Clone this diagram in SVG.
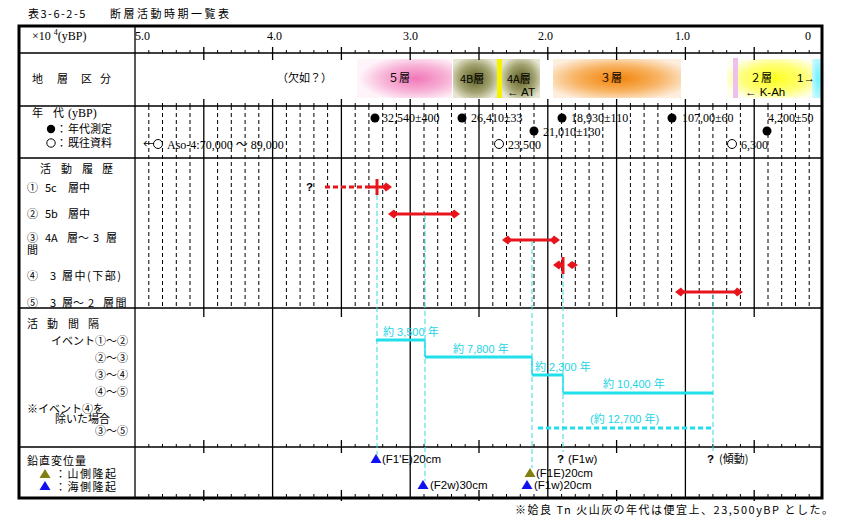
<svg xmlns="http://www.w3.org/2000/svg" width="842" height="523" viewBox="0 0 842 523">
<defs>
<style>
.jp{font-family:"Noto Sans CJK JP","Noto Sans CJK SC",sans-serif;font-size:11px;fill:#000}
.sr{font-family:"Liberation Serif","Noto Sans CJK JP",serif;font-size:12px;fill:#000}
.ss{font-family:"Liberation Sans","Noto Sans CJK JP",sans-serif;font-size:11.5px;fill:#000}
.cyt{font-family:"Liberation Sans","Noto Sans CJK JP",sans-serif;font-size:11px;fill:#22d4e4}
.grid{stroke:#000;stroke-width:1.3;fill:none}
.dash{stroke:#000;stroke-width:1;stroke-dasharray:4 3;fill:none}
.tick{stroke:#000;stroke-width:1;fill:none}
.cyd{stroke:#3cd6e0;stroke-width:1;stroke-dasharray:5 3;fill:none}
.cys{stroke:#22e0ea;stroke-width:3;fill:none}
.cyv{stroke:#22e0ea;stroke-width:1.5;fill:none}
.red{stroke:#e8141c;stroke-width:3;fill:none}
.redd{stroke:#e8141c;stroke-width:3;stroke-dasharray:5 3;fill:none}
.rf{fill:#e8141c}
.dot{fill:#000}
.ring{fill:#fff;stroke:#000;stroke-width:1}
.bl{fill:#1010f0}
.ol{fill:#808010}
</style>
<radialGradient id="gPink" cx="0.62" cy="0.5" r="0.6"><stop offset="0" stop-color="#f277b8"/><stop offset="0.55" stop-color="#f7b2d6"/><stop offset="1" stop-color="#fff4fa"/></radialGradient>
<radialGradient id="gOlive" cx="0.5" cy="0.5" r="0.6"><stop offset="0" stop-color="#5e5e22"/><stop offset="0.6" stop-color="#a3a372"/><stop offset="1" stop-color="#e6e6d2"/></radialGradient>
<radialGradient id="gOrange" cx="0.5" cy="0.5" r="0.6"><stop offset="0" stop-color="#f28206"/><stop offset="0.55" stop-color="#f8b464"/><stop offset="1" stop-color="#fdeedd"/></radialGradient>
<radialGradient id="gYellow" cx="0.55" cy="0.5" r="0.6"><stop offset="0" stop-color="#ffff1e"/><stop offset="0.6" stop-color="#ffff78"/><stop offset="1" stop-color="#fffff0"/></radialGradient>
<radialGradient id="gCyan" cx="0.6" cy="0.5" r="0.7"><stop offset="0" stop-color="#6ef2ff"/><stop offset="1" stop-color="#d6fbff"/></radialGradient>
<marker id="ah" viewBox="0 0 10 10" refX="4" refY="5" markerWidth="10" markerHeight="10" markerUnits="userSpaceOnUse" orient="auto-start-reverse"><path d="M0,5 L4,0.5 L10,5 L4,9.5 z" fill="#e8141c"/></marker>
<g id="seg">
<path class="dash" d="M148.8,106V308M162.5,106V308M176.3,106V308M190,106V308"/>
<path class="tick" d="M148.8,50V53M162.5,50V53M176.3,50V53M190,50V53M148.8,103V106M162.5,103V106M176.3,103V106M190,103V106M148.8,444V447M162.5,444V447M176.3,444V447M190,444V447M148.8,494V498M162.5,494V498M176.3,494V498M190,494V498"/>
</g>
</defs>
<rect x="0" y="0" width="842" height="523" fill="#fff"/>

<text class="jp" x="28" y="18" font-size="12"><tspan letter-spacing="1.5">表3-6-2-5</tspan><tspan x="110" letter-spacing="2.5">断層活動時期一覧表</tspan></text>

<g id="bands">
<rect x="357" y="59" width="95" height="39" fill="url(#gPink)"/>
<rect x="453" y="59" width="44" height="39" fill="url(#gOlive)"/>
<rect x="497" y="59" width="5" height="39" fill="#f4f400"/>
<rect x="502" y="59" width="38" height="39" fill="url(#gOlive)"/>
<rect x="553" y="59" width="128" height="39" fill="url(#gOrange)"/>
<rect x="727" y="59" width="86" height="39" fill="url(#gYellow)"/>
<rect x="733" y="58" width="5" height="40" fill="#eec0ee"/>
<rect x="812" y="59" width="10" height="39" fill="url(#gCyan)"/>
</g>

<g id="grid">
<use href="#seg"/>
<use href="#seg" x="68.8"/>
<use href="#seg" x="137.6"/>
<use href="#seg" x="206.4"/>
<use href="#seg" x="275.2"/>
<use href="#seg" x="344"/>
<use href="#seg" x="412.8"/>
<use href="#seg" x="481.6"/>
<use href="#seg" x="550.4"/>
<use href="#seg" x="619.2"/>
<path class="grid" d="M203.8,47V60M272.6,47V60M341.4,47V60M410.2,47V60M479,47V60M547.8,47V60M616.6,47V60M685.4,47V60M754.2,47V60M203.8,99V308M272.6,99V308M341.4,99V308M410.2,99V308M479,99V308M547.8,99V308M616.6,99V308M685.4,99V308M754.2,99V308"/>
<path class="grid" d="M203.8,308V317M341.4,308V317M479,308V317M616.6,308V317M754.2,308V317M203.8,440V453M341.4,440V453M479,440V453M616.6,440V453M754.2,440V453M203.8,490V501M341.4,490V501M479,490V501M616.6,490V501M754.2,490V501"/>
<path class="grid" d="M272.6,308V498M410.2,308V498M547.8,308V498M685.4,308V498"/>
<path class="grid" d="M19,53H822M19,106H822M19,158H822M19,308H822M19,447H822M135,26V498"/>
<rect x="19" y="26" width="803" height="472" fill="none" stroke="#000" stroke-width="3"/>
</g>

<g id="axis">
<text class="sr" x="32" y="40">×10 <tspan font-size="8" dy="-5">4</tspan><tspan dy="5">(yBP)</tspan></text>
<text class="sr" x="135" y="40">5.0</text>
<text class="sr" x="267" y="40">4.0</text>
<text class="sr" x="403" y="40">3.0</text>
<text class="sr" x="538" y="40">2.0</text>
<text class="sr" x="675" y="40">1.0</text>
<text class="sr" x="805" y="40">0</text>
</g>

<g id="row-strata">
<text class="jp" font-size="13" y="83" x="32 57 81 100">地層区分</text>
<text class="jp" font-size="12" x="277" y="82">（欠如？）</text>
<text class="jp" font-size="12" x="388" y="82">５層</text>
<text class="jp" x="460" y="83">4B層</text>
<text class="jp" x="507" y="83">4A層</text>
<text class="ss" font-size="11" x="507" y="96">← AT</text>
<text class="jp" font-size="12" x="600" y="82">３層</text>
<text class="jp" font-size="12" x="750" y="82">２層</text>
<text class="ss" font-size="11" x="745" y="96">← K-Ah</text>
<text class="ss" font-size="11" x="797" y="82">1→</text>
</g>

<g id="row-age">
<text class="jp" x="32" y="117" font-size="12">年</text>
<text class="jp" x="53" y="117" font-size="12">代</text>
<text class="sr" x="68" y="117">(yBP)</text>
<circle class="dot" cx="51" cy="129" r="4.2"/>
<text class="jp" x="56" y="133" font-size="10.5">：<tspan x="68">年代測定</tspan></text>
<circle class="ring" cx="51" cy="143" r="4.2"/>
<text class="jp" x="56" y="147" font-size="10.5">：<tspan x="68">既往資料</tspan></text>

<circle class="dot" cx="375" cy="118" r="4.5"/><text class="sr" x="382" y="122">32,540±400</text>
<circle class="dot" cx="462" cy="118" r="4.5"/><text class="sr" x="471" y="122">26,410±33</text>
<circle class="dot" cx="562" cy="118" r="4.5"/><text class="sr" x="571" y="122">18,930±110</text>
<circle class="dot" cx="672" cy="118" r="4.5"/><text class="sr" x="682" y="122">107,00±60</text>
<text class="sr" x="768" y="122">4,200±50</text>
<circle class="dot" cx="767" cy="131" r="4.5"/>
<circle class="dot" cx="534" cy="131" r="4.5"/><text class="sr" x="543" y="136">21,010±130</text>
<circle class="ring" cx="499" cy="144" r="4.5"/><text class="sr" x="508" y="149">23,500</text>
<circle class="ring" cx="732" cy="144" r="4.5"/><text class="sr" x="741" y="149">6,300</text>
<text class="jp" x="143" y="148">←</text>
<circle class="ring" cx="158" cy="144" r="4.5"/>
<text class="sr" x="167" y="149">Aso-4:70,000 ～ 89,000</text>
</g>

<g id="row-activity-labels">
<text class="jp" font-size="11.5" y="173" x="40 61 82 102">活動履歴</text>
<text class="jp" y="192"><tspan x="27">①</tspan><tspan x="45">5c</tspan><tspan x="68">層中</tspan></text>
<text class="jp" y="218"><tspan x="27">②</tspan><tspan x="45">5b</tspan><tspan x="68">層中</tspan></text>
<text class="jp" y="242"><tspan x="27">③</tspan><tspan x="45">4A</tspan><tspan x="67">層～</tspan><tspan x="93">3</tspan><tspan x="106">層</tspan></text>
<text class="jp" x="27" y="254" font-size="10.5">間</text>
<text class="jp" y="280"><tspan x="27">④</tspan><tspan x="50">3</tspan><tspan x="62" letter-spacing="1.5">層中(下部)</tspan></text>
<text class="jp" y="307"><tspan x="27">⑤</tspan><tspan x="50">3</tspan><tspan x="62">層～</tspan><tspan x="88">2</tspan><tspan x="103" letter-spacing="1.5">層間</tspan></text>
</g>

<g id="event1">
<text class="ss" x="306" y="191" font-size="11" font-weight="bold" fill="#e8141c">?</text>
<path class="redd" d="M325,187H370"/>
<path class="red" d="M368,187H386" marker-end="url(#ah)"/>
<path class="red" d="M377,179V195"/>
</g>
<g id="event2"><path class="red" d="M394,214H454" marker-start="url(#ah)" marker-end="url(#ah)"/></g>
<g id="event3"><path class="red" d="M508,240H554" marker-start="url(#ah)" marker-end="url(#ah)"/></g>
<g id="event4">
<path class="red" d="M563,265H559" marker-end="url(#ah)"/>
<path class="red" d="M563,257V274"/>
<path class="rf" d="M567,265 L572,261 L578,265 L572,269 z"/>
</g>
<g id="event5"><path class="red" d="M681,292H737" marker-start="url(#ah)" marker-end="url(#ah)"/></g>

<g id="row-interval-labels">
<text class="jp" font-size="12" y="328" x="27 47 68 88">活動間隔</text>
<text class="jp" font-size="12" x="128" y="345" text-anchor="end">イベント①～②</text>
<text class="jp" font-size="12.5" x="128" y="362" text-anchor="end">②～③</text>
<text class="jp" font-size="12.5" x="128" y="379" text-anchor="end">③～④</text>
<text class="jp" font-size="12.5" x="128" y="396" text-anchor="end">④～⑤</text>
<text class="jp" font-size="9.5" x="27" y="413">※イベント④を</text>
<text class="jp" font-size="9" x="55" y="423">除いた場合</text>
<text class="jp" font-size="12.5" x="128" y="435" text-anchor="end">③～⑤</text>
</g>

<g id="connectors">
<path class="cyd" d="M377,195V455M425,215V481M532,241V468M563,274V452M713,294V452"/>
<path class="cys" d="M376,340H425M425,357H532M532,375H563M563,393H713"/>
<path class="cyv" d="M425,340V357M532,357V375M563,375V393"/>
<path class="cys" stroke-dasharray="5 3" d="M538,428H713"/>
</g>

<g id="interval-labels">
<text class="cyt" x="383" y="336">約 3,500 年</text>
<text class="cyt" x="453" y="353">約 7,800 年</text>
<text class="cyt" x="535" y="371">約 2,300 年</text>
<text class="cyt" x="603" y="388">約 10,400 年</text>
<text class="cyt" x="590" y="423">(約 12,700 年)</text>
</g>

<g id="row-displacement">
<text class="jp" font-size="12" x="27" y="465" letter-spacing="1">鉛直変位量</text>
<path class="ol" d="M45,469 L50.5,478 L39.5,478 z"/>
<text class="jp" font-size="11" x="55" y="478" letter-spacing="1.5">：山側隆起</text>
<path class="bl" d="M45,481 L50.5,490 L39.5,490 z"/>
<text class="jp" font-size="11" x="55" y="491" letter-spacing="1.5">：海側隆起</text>

<path class="bl" d="M376,454 L381.5,463 L370.5,463 z"/>
<text class="ss" x="382" y="463">(F1'E)20cm</text>
<path class="bl" d="M423,480 L428.5,489 L417.5,489 z"/>
<text class="ss" x="430" y="489">(F2w)30cm</text>
<path class="ol" d="M530,468 L535.5,477 L524.5,477 z"/>
<text class="ss" x="536" y="477">(F1E)20cm</text>
<path class="bl" d="M527,480 L532.5,489 L521.5,489 z"/>
<text class="ss" x="534" y="489">(F1w)20cm</text>
<text class="ss" x="557" y="463" font-weight="bold">?</text>
<text class="ss" x="568" y="463">(F1w)</text>
<text class="ss" x="707" y="463" font-weight="bold">?</text>
<text class="jp" x="719" y="463" font-size="11.5">(傾動)</text>
</g>

<text class="jp" font-size="12" x="515" y="514" textLength="318" lengthAdjust="spacing">※姶良 Tn 火山灰の年代は便宜上、23,500yBP とした。</text>
</svg>
